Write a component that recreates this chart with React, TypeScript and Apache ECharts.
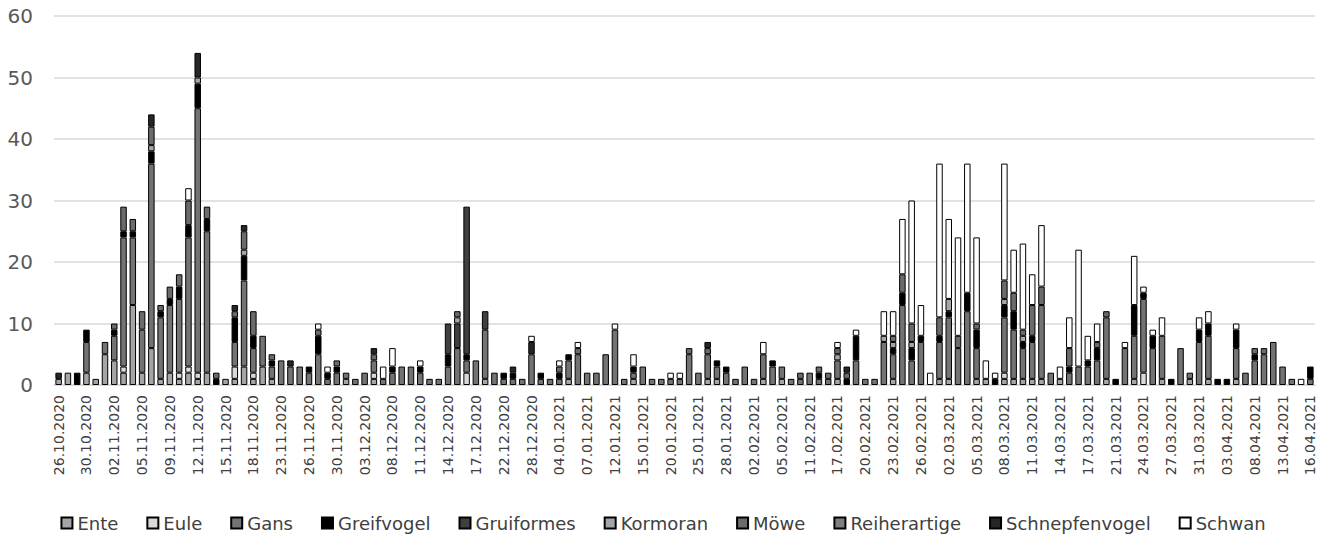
import React, { useEffect, useRef } from "react";
import * as echarts from "echarts";

const dates = [
  "26.10.2020", "27.10.2020", "29.10.2020", "30.10.2020", "31.10.2020", "01.11.2020",
  "02.11.2020", "03.11.2020", "04.11.2020", "05.11.2020", "06.11.2020", "08.11.2020",
  "09.11.2020", "10.11.2020", "11.11.2020", "12.11.2020", "13.11.2020", "14.11.2020",
  "15.11.2020", "16.11.2020", "17.11.2020", "18.11.2020", "19.11.2020", "21.11.2020",
  "23.11.2020", "24.11.2020", "25.11.2020", "26.11.2020", "27.11.2020", "29.11.2020",
  "30.11.2020", "01.12.2020", "02.12.2020", "03.12.2020", "04.12.2020", "07.12.2020",
  "08.12.2020", "09.12.2020", "10.12.2020", "11.12.2020", "12.12.2020", "13.12.2020",
  "14.12.2020", "15.12.2020", "16.12.2020", "17.12.2020", "18.12.2020", "21.12.2020",
  "22.12.2020", "23.12.2020", "27.12.2020", "28.12.2020", "30.12.2020", "02.01.2021",
  "04.01.2021", "05.01.2021", "06.01.2021", "07.01.2021", "08.01.2021", "11.01.2021",
  "12.01.2021", "13.01.2021", "14.01.2021", "15.01.2021", "18.01.2021", "19.01.2021",
  "20.01.2021", "21.01.2021", "22.01.2021", "25.01.2021", "26.01.2021", "27.01.2021",
  "28.01.2021", "29.01.2021", "01.02.2021", "02.02.2021", "03.02.2021", "04.02.2021",
  "05.02.2021", "08.02.2021", "10.02.2021", "11.02.2021", "12.02.2021", "15.02.2021",
  "17.02.2021", "18.02.2021", "19.02.2021", "20.02.2021", "21.02.2021", "22.02.2021",
  "23.02.2021", "24.02.2021", "25.02.2021", "26.02.2021", "27.02.2021", "01.03.2021",
  "02.03.2021", "03.03.2021", "04.03.2021", "05.03.2021", "06.03.2021", "07.03.2021",
  "08.03.2021", "09.03.2021", "10.03.2021", "11.03.2021", "12.03.2021", "13.03.2021",
  "14.03.2021", "15.03.2021", "16.03.2021", "17.03.2021", "18.03.2021", "19.03.2021",
  "21.03.2021", "22.03.2021", "23.03.2021", "24.03.2021", "25.03.2021", "26.03.2021",
  "27.03.2021", "29.03.2021", "30.03.2021", "31.03.2021", "01.04.2021", "02.04.2021",
  "03.04.2021", "06.04.2021", "07.04.2021", "08.04.2021", "09.04.2021", "12.04.2021",
  "13.04.2021", "14.04.2021", "15.04.2021", "16.04.2021",
];

const ente = [
  1, 2, 0, 2, 1, 5, 4, 2, 13, 2,
  6, 1, 2, 1, 2, 1, 2, 0, 1, 1,
  3, 1, 3, 1, 0, 0, 0, 0, 0, 0,
  0, 1, 0, 0, 1, 0, 0, 0, 0, 0,
  0, 0, 0, 0, 0, 0, 1, 0, 0, 0,
  0, 0, 0, 0, 0, 1, 0, 0, 0, 0,
  0, 0, 1, 0, 0, 0, 0, 0, 0, 0,
  1, 1, 0, 0, 0, 0, 1, 0, 1, 0,
  0, 0, 0, 0, 1, 0, 0, 0, 0, 0,
  1, 0, 0, 0, 0, 1, 1, 0, 0, 1,
  1, 0, 1, 1, 1, 1, 1, 0, 1, 0,
  0, 0, 0, 1, 0, 0, 1, 0, 0, 1,
  0, 0, 1, 0, 1, 0, 0, 1, 0, 0,
  0, 0, 0, 0, 0, 0,
];

const eule = [
  0, 0, 0, 0, 0, 0, 0, 1, 0, 0,
  0, 0, 0, 1, 1, 1, 0, 0, 0, 2,
  0, 1, 0, 0, 0, 0, 0, 0, 0, 0,
  0, 0, 0, 0, 1, 0, 0, 0, 0, 0,
  0, 0, 0, 0, 2, 0, 0, 0, 0, 0,
  0, 0, 0, 0, 0, 0, 0, 0, 0, 0,
  0, 0, 0, 0, 0, 0, 0, 0, 0, 0,
  0, 0, 0, 0, 0, 0, 0, 0, 0, 0,
  0, 0, 0, 0, 0, 0, 0, 0, 0, 0,
  0, 0, 0, 0, 0, 0, 0, 0, 0, 0,
  0, 0, 1, 0, 0, 0, 0, 0, 0, 0,
  0, 0, 0, 0, 0, 0, 0, 2, 0, 0,
  0, 0, 0, 0, 0, 0, 0, 0, 0, 0,
  0, 0, 0, 0, 0, 0,
];

const gans = [
  0, 0, 0, 5, 0, 2, 4, 21, 11, 7,
  30, 10, 11, 12, 21, 43, 23, 0, 0, 4,
  14, 4, 5, 2, 4, 3, 3, 2, 5, 1,
  2, 1, 1, 2, 2, 1, 2, 3, 3, 2,
  1, 1, 3, 6, 2, 4, 8, 2, 1, 1,
  1, 5, 1, 1, 1, 3, 5, 2, 2, 5,
  9, 1, 1, 3, 1, 1, 1, 1, 5, 2,
  4, 2, 2, 1, 3, 1, 4, 3, 2, 1,
  1, 2, 1, 1, 3, 0, 4, 1, 1, 7,
  4, 13, 4, 7, 0, 6, 10, 6, 12, 5,
  0, 0, 9, 8, 5, 6, 12, 2, 0, 2,
  3, 3, 4, 10, 0, 6, 7, 12, 6, 7,
  0, 6, 1, 7, 7, 0, 0, 5, 2, 4,
  5, 7, 3, 1, 0, 1,
];

const greifvogel = [
  0, 0, 2, 2, 0, 0, 1, 1, 1, 0,
  2, 1, 1, 2, 2, 4, 2, 1, 0, 4,
  4, 2, 0, 1, 0, 0, 0, 1, 3, 1,
  1, 0, 0, 0, 0, 0, 1, 0, 0, 1,
  0, 0, 2, 0, 1, 0, 0, 0, 1, 1,
  0, 0, 1, 0, 1, 1, 0, 0, 0, 0,
  0, 0, 1, 0, 0, 0, 0, 0, 0, 0,
  0, 1, 1, 0, 0, 0, 0, 1, 0, 0,
  0, 0, 1, 0, 0, 1, 4, 0, 0, 0,
  1, 2, 2, 1, 0, 1, 1, 0, 3, 3,
  0, 1, 2, 3, 1, 1, 0, 0, 0, 1,
  0, 1, 2, 0, 1, 0, 5, 1, 2, 0,
  1, 0, 0, 2, 2, 1, 1, 3, 0, 1,
  0, 0, 0, 0, 0, 2,
];

const gruiformes = [
  0, 0, 0, 0, 0, 0, 0, 0, 0, 0,
  0, 0, 0, 0, 0, 0, 0, 0, 0, 0,
  0, 0, 0, 0, 0, 0, 0, 0, 0, 0,
  0, 0, 0, 0, 0, 0, 0, 0, 0, 0,
  0, 0, 5, 4, 24, 0, 3, 0, 0, 0,
  0, 0, 0, 0, 0, 0, 0, 0, 0, 0,
  0, 0, 0, 0, 0, 0, 0, 0, 0, 0,
  0, 0, 0, 0, 0, 0, 0, 0, 0, 0,
  0, 0, 0, 0, 0, 0, 0, 0, 0, 0,
  0, 0, 0, 0, 0, 0, 0, 0, 0, 0,
  0, 0, 0, 0, 0, 0, 0, 0, 0, 0,
  0, 0, 0, 0, 0, 0, 0, 0, 0, 0,
  0, 0, 0, 0, 0, 0, 0, 0, 0, 0,
  0, 0, 0, 0, 0, 0,
];

const kormoran = [
  0, 0, 0, 0, 0, 0, 0, 0, 0, 0,
  1, 0, 0, 0, 0, 1, 0, 0, 0, 0,
  1, 0, 0, 0, 0, 0, 0, 0, 0, 0,
  0, 0, 0, 0, 0, 0, 0, 0, 0, 0,
  0, 0, 0, 1, 0, 0, 0, 0, 0, 0,
  0, 0, 0, 0, 0, 0, 0, 0, 0, 0,
  0, 0, 0, 0, 0, 0, 0, 0, 0, 0,
  0, 0, 0, 0, 0, 0, 0, 0, 0, 0,
  0, 0, 0, 0, 1, 0, 0, 0, 0, 1,
  1, 0, 1, 0, 0, 0, 2, 0, 0, 0,
  0, 0, 1, 0, 1, 0, 0, 0, 0, 0,
  0, 0, 0, 0, 0, 0, 0, 0, 0, 0,
  0, 0, 0, 0, 0, 0, 0, 0, 0, 0,
  0, 0, 0, 0, 0, 0,
];

const moewe = [
  0, 0, 0, 0, 0, 0, 1, 4, 2, 3,
  3, 1, 2, 2, 4, 0, 2, 1, 0, 1,
  3, 4, 0, 1, 0, 0, 0, 0, 1, 0,
  1, 0, 0, 0, 1, 0, 0, 0, 0, 0,
  0, 0, 0, 1, 0, 0, 0, 0, 0, 0,
  0, 0, 0, 0, 1, 0, 1, 0, 0, 0,
  0, 0, 0, 0, 0, 0, 0, 0, 1, 0,
  1, 0, 0, 0, 0, 0, 0, 0, 0, 0,
  1, 0, 1, 1, 1, 1, 0, 0, 0, 0,
  1, 3, 3, 0, 0, 3, 0, 2, 0, 1,
  0, 0, 3, 3, 1, 5, 3, 0, 0, 3,
  0, 0, 1, 1, 0, 0, 0, 0, 0, 0,
  0, 0, 0, 0, 0, 0, 0, 0, 0, 1,
  1, 0, 0, 0, 0, 0,
];

const reiherartige = [
  0, 0, 0, 0, 0, 0, 0, 0, 0, 0,
  0, 0, 0, 0, 0, 0, 0, 0, 0, 0,
  0, 0, 0, 0, 0, 0, 0, 0, 0, 0,
  0, 0, 0, 0, 0, 0, 0, 0, 0, 0,
  0, 0, 0, 0, 0, 0, 0, 0, 0, 0,
  0, 0, 0, 0, 0, 0, 0, 0, 0, 0,
  0, 0, 0, 0, 0, 0, 0, 0, 0, 0,
  0, 0, 0, 0, 0, 0, 0, 0, 0, 0,
  0, 0, 0, 0, 0, 0, 0, 0, 0, 0,
  0, 0, 0, 0, 0, 0, 0, 0, 0, 0,
  0, 0, 0, 0, 0, 0, 0, 0, 0, 0,
  0, 0, 0, 0, 0, 0, 0, 0, 0, 0,
  0, 0, 0, 0, 0, 0, 0, 0, 0, 0,
  0, 0, 0, 0, 0, 0,
];

const schnepfenvogel = [
  1, 0, 0, 0, 0, 0, 0, 0, 0, 0,
  2, 0, 0, 0, 0, 4, 0, 0, 0, 1,
  1, 0, 0, 0, 0, 1, 0, 0, 0, 0,
  0, 0, 0, 0, 1, 0, 0, 0, 0, 0,
  0, 0, 0, 0, 0, 0, 0, 0, 0, 1,
  0, 2, 0, 0, 0, 0, 0, 0, 0, 0,
  0, 0, 0, 0, 0, 0, 0, 0, 0, 0,
  1, 0, 0, 0, 0, 0, 0, 0, 0, 0,
  0, 0, 0, 0, 0, 1, 0, 0, 0, 0,
  0, 0, 0, 0, 0, 0, 0, 0, 0, 0,
  0, 0, 0, 0, 0, 0, 0, 0, 0, 0,
  0, 0, 0, 0, 0, 0, 0, 0, 0, 0,
  0, 0, 0, 0, 0, 0, 0, 0, 0, 0,
  0, 0, 0, 0, 0, 0,
];

const schwan = [
  0, 0, 0, 0, 0, 0, 0, 0, 0, 0,
  0, 0, 0, 0, 2, 0, 0, 0, 0, 0,
  0, 0, 0, 0, 0, 0, 0, 0, 1, 1,
  0, 0, 0, 0, 0, 2, 3, 0, 0, 1,
  0, 0, 0, 0, 0, 0, 0, 0, 0, 0,
  0, 1, 0, 0, 1, 0, 1, 0, 0, 0,
  1, 0, 2, 0, 0, 0, 1, 1, 0, 0,
  0, 0, 0, 0, 0, 0, 2, 0, 0, 0,
  0, 0, 0, 0, 1, 0, 1, 0, 0, 4,
  4, 9, 20, 5, 2, 25, 13, 16, 21, 14,
  3, 1, 19, 7, 14, 5, 10, 0, 2, 5,
  19, 4, 3, 0, 0, 1, 8, 1, 1, 3,
  0, 0, 0, 2, 2, 0, 0, 1, 0, 0,
  0, 0, 0, 0, 1, 0,
];

const seriesDefs = [
  { name: "Ente", data: ente, color: "#a5a5a5" },
  { name: "Eule", data: eule, color: "#d9d9d9" },
  { name: "Gans", data: gans, color: "#737373" },
  { name: "Greifvogel", data: greifvogel, color: "#000000" },
  { name: "Gruiformes", data: gruiformes, color: "#404040" },
  { name: "Kormoran", data: kormoran, color: "#a6a6a6" },
  { name: "Möwe", data: moewe, color: "#6b6b6b" },
  { name: "Reiherartige", data: reiherartige, color: "#7f7f7f" },
  { name: "Schnepfenvogel", data: schnepfenvogel, color: "#262626" },
  { name: "Schwan", data: schwan, color: "#ffffff" },
];

const FONT = "DejaVu Sans, Verdana, sans-serif";

export default function App() {
  const ref = useRef<HTMLDivElement>(null);
  useEffect(() => {
    document.body.style.margin = "0";
    const chart = echarts.init(ref.current!, null, { renderer: "svg" });
    chart.setOption({
      animation: false,
      backgroundColor: "#ffffff",
      grid: { left: 54, right: 11, top: 16, bottom: 157, containLabel: false },
      legend: {
        left: "center",
        top: 509,
        icon: "rect",
        itemWidth: 11,
        itemHeight: 11,
        itemGap: 28,
        textStyle: { fontSize: 18, color: "#404040", fontFamily: FONT },
        data: seriesDefs.map((s) => s.name),
      },
      xAxis: {
        type: "category",
        data: dates,
        axisTick: { show: false },
        axisLine: { lineStyle: { color: "#d9d9d9", width: 1.5 } },
        axisLabel: {
          rotate: 90,
          interval: 2,
          fontSize: 14,
          color: "#404040",
          fontFamily: FONT,
          margin: 10,
        },
      },
      yAxis: {
        type: "value",
        min: 0,
        max: 60,
        interval: 10,
        axisLine: { show: false },
        axisTick: { show: false },
        splitLine: { lineStyle: { color: "#d9d9d9", width: 1.5 } },
        axisLabel: { fontSize: 20, color: "#595959", fontFamily: FONT, margin: 21 },
      },
      series: seriesDefs.map((s) => ({
        name: s.name,
        type: "bar",
        stack: "total",
        barCategoryGap: "30%",
        itemStyle: { color: s.color, borderColor: "#000000", borderWidth: 1 },
        emphasis: { disabled: true },
        data: s.data.map((v) => (v === 0 ? "-" : v)),
      })),
    });
    return () => chart.dispose();
  }, []);
  return <div ref={ref} style={{ width: 1326, height: 542 }} />;
}
